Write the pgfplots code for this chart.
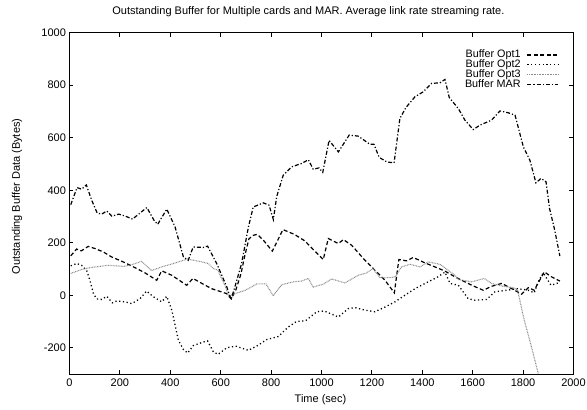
\documentclass[border=0pt]{standalone}
\usepackage{fontspec}
\setmainfont{Liberation Sans}
\usepackage{pgfplots}
\pgfplotsset{compat=1.18}

\pgfplotstableread{
x y
5 150
28 176
47 169
74 186
101 178
134 165
167 146
213 127
260 105
300 85
346 57
366 93
406 76
465 38
490 64
531 42
564 25
624 6
642 -14
660 20
680 80
696 152
712 215
729 228
745 232
769 210
805 168
847 250
892 232
934 207
967 174
1007 136
1027 216
1067 197
1087 212
1120 190
1166 140
1212 95
1252 57
1289 9
1307 136
1338 131
1364 144
1411 123
1450 108
1490 92
1530 70
1596 38
1642 19
1675 34
1715 45
1761 22
1794 4
1821 29
1844 19
1884 89
1913 70
1946 54
}\optone

\pgfplotstableread{
x y
5 112
29 121
48 114
68 95
81 57
95 6
108 -14
128 -16
148 -4
170 -29
187 -22
220 -25
247 -32
280 -13
306 16
333 -6
366 -25
386 -4
406 -57
432 -171
452 -207
469 -220
491 -192
531 -178
548 -174
571 -216
590 -225
624 -200
660 -194
710 -210
746 -192
782 -169
829 -157
868 -121
901 -100
937 -97
981 -63
1011 -60
1040 -72
1067 -83
1106 -51
1133 -47
1173 -57
1212 -63
1252 -45
1292 -25
1331 0
1371 25
1411 45
1457 67
1490 88
1510 45
1543 38
1582 -13
1609 -19
1655 -16
1688 13
1735 19
1774 25
1801 22
1821 19
1844 9
1860 51
1880 85
1911 38
1940 47
}\opttwo

\pgfplotstableread{
x y
5 83
48 98
88 106
154 114
213 110
240 114
286 129
326 94
366 108
410 120
468 138
515 129
551 121
571 102
590 95
600 70
617 38
632 -5
650 4
696 18
743 43
780 43
808 -2
842 40
888 51
921 54
948 64
967 31
1007 42
1040 62
1093 47
1146 76
1179 85
1205 102
1232 67
1272 67
1292 70
1318 108
1351 118
1391 108
1424 127
1470 118
1503 95
1530 76
1543 60
1596 51
1646 64
1675 45
1721 34
1761 29
1778 19
1790 -32
1803 -89
1830 -185
1862 -305
1870 -340
}\optthree

\pgfplotstableread{
x y
5 345
30 410
48 404
67 420
88 362
110 313
128 309
148 321
168 301
195 309
220 302
250 290
307 334
335 286
350 270
386 328
419 260
452 146
471 133
491 184
531 182
548 187
584 121
624 32
641 -16
657 34
683 121
710 260
729 336
769 352
792 343
809 288
822 375
848 457
882 489
921 502
948 516
967 480
990 485
1005 468
1030 590
1067 546
1110 610
1146 606
1192 575
1208 575
1229 525
1259 508
1288 504
1311 673
1335 715
1371 756
1404 775
1437 807
1470 809
1490 822
1507 753
1543 711
1569 667
1602 631
1629 648
1675 667
1708 702
1741 695
1768 686
1801 565
1827 514
1851 428
1871 445
1891 432
1905 330
1925 250
1946 149
}\mar

\begin{document}
\begin{tikzpicture}
\path[use as bounding box] (-69.5pt,-36pt) rectangle (517.5pt,374pt);
\begin{axis}[
  scale only axis, width=504pt, height=341.3pt,
  at={(0,0)}, anchor=south west,
  xmin=0, xmax=2000, ymin=-300, ymax=1000,
  xtick={0,200,...,2000}, ytick={-200,0,...,1000},
  tick align=inside, major tick length=4pt,
  clip mode=individual,
  axis line style={line width=0.8pt}, every tick/.style={line width=0.8pt,black},
  font=\fontsize{11}{12}\selectfont,
  /pgf/number format/assume math mode=true,
  /pgf/number format/1000 sep={},
  xticklabel style={yshift=-1pt},
  legend plot pos=right, legend cell align=right,
  legend image code/.code={\path (0pt,0pt); \draw[#1] (4pt,0pt) -- (35pt,0pt);},
  legend style={draw=none, fill=none, at={(axis cs:1955,942)}, anchor=north east,
    font=\fontsize{10.8}{12}\selectfont, row sep=0pt,
    /tikz/every odd column/.style={column sep=2pt},
    nodes={inner sep=0pt, text height=7.6pt, text depth=2.2pt}},
]
\addplot[black, line width=1.2pt, dash pattern=on 4pt off 2.5pt] table[x=x,y=y] {\optone};
\addlegendentry{Buffer Opt1}
\addplot[black, line width=1.3pt, dash pattern=on 1.2pt off 2.6pt] table[x=x,y=y] {\opttwo};
\addlegendentry{Buffer Opt2}
\addplot[black!45, line width=1.1pt, dash pattern=on 0.8pt off 0.8pt] table[x=x,y=y] {\optthree};
\addlegendentry{Buffer Opt3}
\addplot[black, line width=1.2pt, dash pattern=on 4pt off 2pt on 1.2pt off 2pt] table[x=x,y=y] {\mar};
\addlegendentry{Buffer MAR}
\node[anchor=center, font=\fontsize{11}{12}\selectfont] at (axis description cs:0.474,1.061) {Outstanding Buffer for Multiple cards and MAR. Average link rate streaming rate.};
\node[anchor=center, font=\fontsize{11}{12}\selectfont] at (axis description cs:0.498,-0.076) {Time (sec)};
\node[anchor=center, rotate=90, font=\fontsize{11}{12}\selectfont] at (axis description cs:-0.104,0.52) {Outstanding Buffer Data (Bytes)};
\end{axis}
\end{tikzpicture}
\end{document}
